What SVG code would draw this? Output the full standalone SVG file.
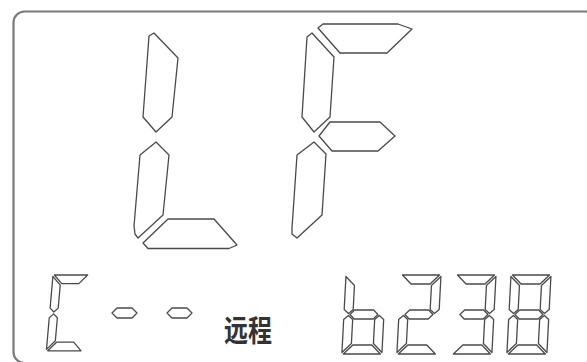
<svg xmlns="http://www.w3.org/2000/svg" xmlns:xlink="http://www.w3.org/1999/xlink" width="587" height="362" viewBox="0 0 587 362">
<style>
.seg{fill:none;stroke:#4a4a4a;stroke-width:1.3;stroke-linejoin:round;vector-effect:non-scaling-stroke}
.big{fill:none;stroke:#4a4a4a;stroke-width:1.3;stroke-linejoin:round}
.frame{fill:none;stroke:#7a7a7a;stroke-width:2.2}
.lbl{font-family:'Liberation Sans','Noto Sans CJK SC',sans-serif;font-weight:bold;fill:#333}
</style>
<defs>
<polygon id="sa" class="seg" points="1.5,0 38.5,0 29.5,9 10.5,9"/>
<polygon id="sb" class="seg" points="40,1.5 40,34.5 35.5,38.5 31,34.5 31,10.5"/>
<polygon id="sc" class="seg" points="40,44.5 40,77.5 31,68.5 31,44.5 35.5,40.5"/>
<polygon id="sd" class="seg" points="1.5,79 10.5,70 29.5,70 38.5,79"/>
<polygon id="se" class="seg" points="0,44.5 4.5,40.5 9,44.5 9,68.5 0,77.5"/>
<polygon id="sf" class="seg" points="0,1.5 9,10.5 9,34.5 4.5,38.5 0,34.5"/>
<polygon id="sg" class="seg" points="6,39.5 10.5,35 29.5,35 34,39.5 29.5,44 10.5,44"/>
</defs>
<rect class="frame" x="13.5" y="11.5" width="583" height="351.5" rx="11" ry="11"/>
<g id="big-L">
<polygon class="big" points="149,36 154,33 178,58 172,117 156,132 143,117"/>
<polygon class="big" points="156,142 169,155 163,215 138,238 135,234 134,226 140,155"/>
<polygon class="big" points="168,219 214,219 237,245 229,248.5 148,248.5 143,243"/>
</g>
<g id="big-F">
<polygon class="big" points="318,28 323,24 398,24 412,29 387,53 340,53"/>
<polygon class="big" points="307,37 312,33 334,57 330,117 314,132 302,117"/>
<polygon class="big" points="319,136 330,122 380,122 395,136 378,151 332,151"/>
<polygon class="big" points="314,142 326,154 322,215 297,238 292,234 292,228 297,155"/>
</g>
<g id="small-bracket" transform="translate(53,275) skewX(-5) scale(0.9,0.96)">
<use xlink:href="#sa"/><use xlink:href="#sf"/><use xlink:href="#se"/><use xlink:href="#sd"/>
</g>
<g id="dash-1"><polygon class="big" points="112,313 117,308 132,308 137,313 132,318 117,318"/></g>
<g id="dash-2"><polygon class="big" points="167,313 172,308 187,308 192,313 187,318 172,318"/></g>
<g id="label-remote"><text class="lbl" x="224" y="341" font-size="30" textLength="48" lengthAdjust="spacingAndGlyphs">远程</text></g>
<g id="digit-b" transform="translate(346,275) skewX(-3)">
<use xlink:href="#sf"/><use xlink:href="#se"/><use xlink:href="#sg"/><use xlink:href="#sc"/><use xlink:href="#sd"/>
</g>
<g id="digit-2" transform="translate(401,275) skewX(-3)">
<use xlink:href="#sa"/><use xlink:href="#sb"/><use xlink:href="#sg"/><use xlink:href="#se"/><use xlink:href="#sd"/>
</g>
<g id="digit-3" transform="translate(456,275) skewX(-3)">
<use xlink:href="#sa"/><use xlink:href="#sb"/><use xlink:href="#sg"/><use xlink:href="#sc"/><use xlink:href="#sd"/>
</g>
<g id="digit-8" transform="translate(511,275) skewX(-3)">
<use xlink:href="#sa"/><use xlink:href="#sb"/><use xlink:href="#sc"/><use xlink:href="#sd"/><use xlink:href="#se"/><use xlink:href="#sf"/><use xlink:href="#sg"/>
</g>
</svg>
